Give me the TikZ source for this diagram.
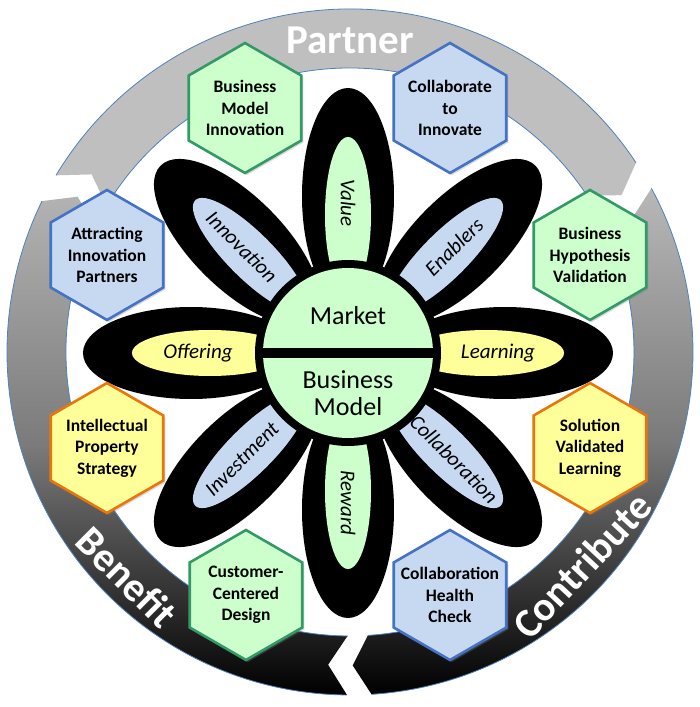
\documentclass[tikz,border=0pt]{standalone}
\usepackage{fontspec}
\setmainfont{Carlito}
\usetikzlibrary{shapes.geometric,shadows}
\definecolor{hexgreen}{HTML}{CCFFCC}
\definecolor{hexgreenline}{HTML}{339966}
\definecolor{hexblue}{HTML}{C6D9F1}
\definecolor{hexblueline}{HTML}{4472C4}
\definecolor{hexyellow}{HTML}{FFFF99}
\definecolor{hexorange}{HTML}{E8760D}
\definecolor{ringedge}{HTML}{4F81BD}
\definecolor{partnergray}{HTML}{BFBFBF}

\begin{document}
\begin{tikzpicture}[x=1pt,y=1pt,
  hexbox/.style={regular polygon,regular polygon sides=6,shape border rotate=30,minimum size=130pt,inner sep=0pt,line width=2.6pt,drop shadow={opacity=0.3,shadow xshift=2pt,shadow yshift=-2pt}},
  greenhex/.style={hexbox,fill=hexgreen,draw=hexgreenline},
  bluehex/.style={hexbox,fill=hexblue,draw=hexblueline},
  yellowhex/.style={hexbox,fill=hexyellow,draw=hexorange},
  hextext/.style={font=\fontsize{17.5}{21.5}\selectfont\bfseries,align=center,text=black},
  ringtext/.style={font=\fontsize{41}{41}\selectfont\bfseries,text=white},
  ringline/.style={ringedge,line width=0.8pt},
  petaltext/.style={font=\fontsize{21}{21}\selectfont\itshape},
  hubtext/.style={font=\fontsize{26}{27}\selectfont,align=center}]
  \useasboundingbox (-350,-355) rectangle (350,352);

  % Outer ring: Partner
  \fill[partnergray] (149:343) arc[start angle=149,end angle=33.5,radius=343] -- (30:313.5) -- (33.5:284) arc[start angle=33.5,end angle=149,radius=284] -- (145.5:313.5) -- cycle;
  \draw[ringline] (149:343) arc[start angle=149,end angle=33.5,radius=343] (33.5:284) arc[start angle=33.5,end angle=149,radius=284];

  % Contribute
  \shade[top color=black!28,bottom color=black,middle color=black!52] (28.5:343) arc[start angle=28.5,end angle=-86.4,radius=343] -- (-89.5:313.5) -- (-86.4:284) arc[start angle=-86.4,end angle=28.5,radius=284] -- (25.5:313.5) -- cycle;
  \draw[ringline] (28.5:343) arc[start angle=28.5,end angle=-86.4,radius=343] (-86.4:284) arc[start angle=-86.4,end angle=28.5,radius=284];

  % Benefit
  \shade[top color=black!30,bottom color=black,middle color=black!52] (269.5:343) arc[start angle=269.5,end angle=153.9,radius=343] -- (150.3:313.5) -- (153.9:284) arc[start angle=153.9,end angle=269.5,radius=284] -- (266:313.5) -- cycle;
  \draw[ringline] (269.5:343) arc[start angle=269.5,end angle=153.9,radius=343] (153.9:284) arc[start angle=153.9,end angle=269.5,radius=284];

  \node[ringtext] (partner) at (0,312) {Partner};
  \node[ringtext,rotate=47] (contribute) at (-42.6:315) {Contribute};
  \node[ringtext,rotate=-45] (benefit) at (225.3:317) {Benefit};

  % Flower
  \begin{scope}[shift={(-2,-1)}]
    \foreach \ang in {0,45,...,315}
      \fill[black,rotate=\ang] (157,0) ellipse[x radius=108,y radius=46];
    \foreach \ang/\col in {0/hexyellow,45/hexblue,90/hexgreen,135/hexblue,180/hexyellow,225/hexblue,270/hexgreen,315/hexblue}
      \fill[\col,rotate=\ang] (138,0) ellipse[x radius=78,y radius=23];

    \fill[black] (0,0) circle[radius=93];
    \fill[hexgreen] (0,0) circle[radius=85];
    \fill[black] (-86,-5) rectangle (86,5);
    \node[hubtext] (market) at (0,37) {Market};
    \node[hubtext] (bizmodel) at (0,-40) {Business\\Model};

    \node[petaltext] (learning) at (0:150) {Learning};
    \node[petaltext,rotate=45] (enablers) at (45:150) {Enablers};
    \node[petaltext,rotate=-90] (value) at (90:150) {Value};
    \node[petaltext,rotate=-45] (innovation) at (135:150) {Innovation};
    \node[petaltext] (offering) at (180:150) {Offering};
    \node[petaltext,rotate=45] (investment) at (225:150) {Investment};
    \node[petaltext,rotate=-90] (reward) at (270:150) {Reward};
    \node[petaltext,rotate=-45] (collab) at (315:150) {Collaboration};
  \end{scope}

  % Hexagons
  \node[greenhex,label={[hextext]center:Business\\Model\\Innovation}] (bmi) at (-105,244) {};
  \node[bluehex,label={[hextext]center:Collaborate\\to\\Innovate}] (cti) at (100,244) {};
  \node[bluehex,label={[hextext]center:Attracting\\Innovation\\Partners}] (aip) at (-243,97) {};
  \node[greenhex,label={[hextext]center:Business\\Hypothesis\\Validation}] (bhv) at (240,97) {};
  \node[yellowhex,label={[hextext]center:Intellectual\\Property\\Strategy}] (ips) at (-243,-96) {};
  \node[yellowhex,label={[hextext]center:Solution\\Validated\\Learning}] (svl) at (240,-96) {};
  \node[greenhex,label={[hextext]center:Customer-\\Centered\\Design}] (ccd) at (-104,-243) {};
  \node[bluehex,label={[hextext]center:Collaboration\\Health\\Check}] (chc) at (100,-243) {};
\end{tikzpicture}
\end{document}
